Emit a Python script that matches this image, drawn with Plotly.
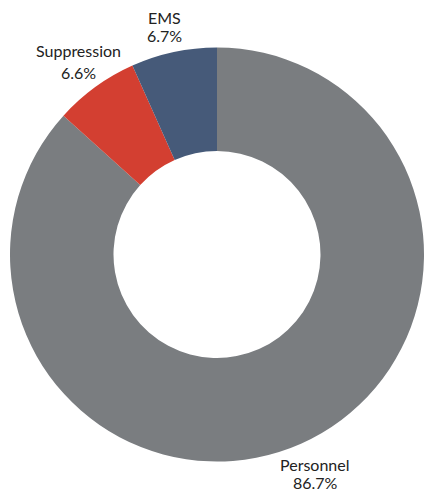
import math
import plotly.graph_objects as go

labels = ["Personnel", "Suppression", "EMS"]
values = [86.7, 6.6, 6.7]
colors = ["#7a7d80", "#d33f31", "#465a79"]

W, H = 424, 491
ML, MR, MT, MB = 10, 0, 47, 29
label_dist = [241.6, 236.4, 232.5]   # label distance from pie centre, px
label_shift = [0.0, 0.0, -0.9]      # small angular nudge, degrees
line_gap = [18, 22.5, 18]           # distance between the two label lines, px

fig = go.Figure(go.Pie(
    labels=labels,
    values=values,
    hole=0.5,
    sort=False,
    direction="clockwise",
    rotation=0,
    marker=dict(colors=colors, line=dict(width=0)),
    textinfo="none",
    hoverinfo="label+percent",
    showlegend=False,
))

pw, ph = W - ML - MR, H - MT - MB
cx, cy = ML + pw / 2, MT + ph / 2
total = sum(values)
cum = 0.0
annotations = []
for lab, v, d, sh, g in zip(labels, values, label_dist, label_shift, line_gap):
    mid = (cum + v / 2) / total * 2 * math.pi + math.radians(sh)
    cum += v
    px = cx + d * math.sin(mid)
    py = cy - d * math.cos(mid)
    for txt, off in ((lab, -g / 2), (f"{v / total * 100:.1f}%", g / 2)):
        annotations.append(dict(
            x=(px - ML) / pw, y=(H - MB - (py + off - 1.5)) / ph,
            xref="paper", yref="paper",
            xanchor="center", yanchor="middle",
            text=txt,
            showarrow=False,
            font=dict(family="Lato", size=16, color="#222222"),
        ))

fig.update_layout(
    width=W, height=H,
    margin=dict(l=ML, r=MR, t=MT, b=MB),
    paper_bgcolor="white",
    plot_bgcolor="white",
    annotations=annotations,
)

fig.write_html("out.html")
